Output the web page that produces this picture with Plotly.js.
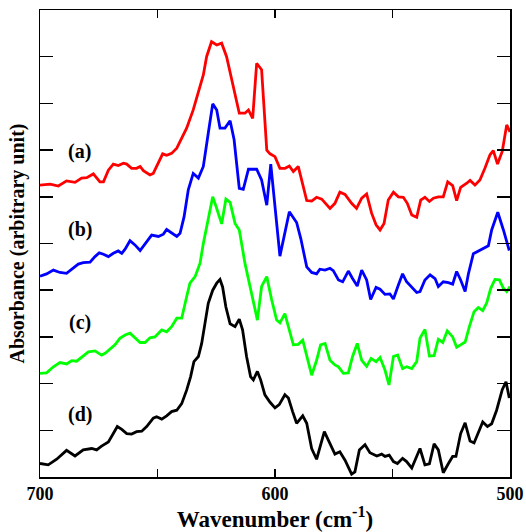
<!DOCTYPE html>
<html>
<head>
<meta charset="utf-8">
<script src="https://cdn.plot.ly/plotly-3.0.1.min.js"></script>
<style>html,body{margin:0;padding:0;background:#fff;}#chart{width:526px;height:532px;}</style>
</head>
<body>
<div id="chart"></div>
<script>
// Spectrum (a) - red
const wnA = [700,695.7,692.2,688.7,685.1,682.3,680.1,677.3,674.5,673.0,670.9,668.8,666.7,664.5,663.1,661.0,658.9,657.4,656.0,653.2,651.8,649.6,647.8,646.1,644.0,641.8,639.7,637.6,634.8,632.6,630.5,629.1,627.0,624.8,622.7,620.6,618.4,616.3,615.2,612.8,611.3,609.5,607.8,605.7,603.5,
  602.1,600.0,597.9,595.7,593.9,592.2,590.1,586.5,584.4,582.3,580.1,576.6,574.5,572.4,570.2,567.4,565.3,563.1,561.0,558.9,557.0,555.3,553.6,551.8,549.6,547.5,545.4,543.7,541.8,539.7,538.0,536.2,534.3,532.6,530.5,528.4,526.5,524.4,522.7,521.0,518.4,517.0,514.9,512.8,510.6,508.5,507.1,505.3,503.3,501.4,500.0];
const absA = [6.25,6.27,6.23,6.34,6.31,6.40,6.41,6.49,6.32,6.32,6.57,6.70,6.67,6.72,6.70,6.61,6.61,6.65,6.56,6.47,6.50,6.72,6.92,6.89,6.93,7.04,7.25,7.47,7.86,8.22,8.61,9.00,9.32,9.25,9.29,9.00,8.50,8.08,7.79,7.79,7.86,7.68,8.86,8.72,7.00,
  6.92,6.86,6.61,6.61,6.66,6.54,6.65,5.92,5.91,5.99,5.95,5.75,5.86,6.10,6.05,5.86,5.75,5.97,6.06,5.65,5.40,5.29,5.43,5.93,6.10,6.00,5.99,5.86,5.61,5.56,5.93,5.99,5.90,5.97,6.00,6.00,6.32,6.24,5.92,6.20,6.29,6.35,6.25,6.36,6.62,6.90,6.99,6.70,6.97,7.54,7.39];

// Spectrum (b) - blue
const wnB = [700,697.2,694.3,691.5,688.7,686.5,683.7,681.6,678.7,676.6,674.8,673.0,670.9,668.8,666.7,665.2,663.8,661.7,659.6,657.4,655.3,652.5,649.6,647.5,646.1,644.0,641.8,640.4,638.7,636.9,634.8,632.6,630.5,628.4,626.5,624.8,623.4,621.3,619.1,617.4,615.2,613.5,611.3,607.8,605.7,603.5,601.8,
  597.9,593.9,590.8,589.0,586.5,584.4,582.3,580.9,578.7,576.6,575.2,573.0,571.2,568.8,567.0,565.0,563.1,561.0,559.3,557.0,555.3,553.2,551.1,549.6,547.5,545.7,544.0,541.8,539.7,538.3,536.2,534.0,531.9,530.5,528.4,526.2,524.4,522.7,521.0,519.1,517.7,515.6,512.8,509.2,507.8,505.2,502.8,500.3];
const absB = [4.30,4.35,4.43,4.38,4.36,4.45,4.56,4.59,4.60,4.72,4.80,4.77,4.72,4.79,4.84,4.79,4.88,5.06,4.97,4.85,4.99,5.18,5.15,5.20,5.30,5.22,5.15,5.22,5.57,6.15,6.50,6.40,6.65,7.36,7.99,7.86,7.47,7.47,7.63,7.22,6.18,6.16,6.59,6.59,6.36,5.82,6.70,
  4.73,5.68,5.45,5.10,4.50,4.38,4.35,4.45,4.43,4.47,4.42,4.22,4.18,4.41,4.25,4.09,4.43,4.22,3.80,4.06,4.02,3.91,3.92,3.81,4.11,4.35,4.18,4.06,3.95,3.97,4.22,4.33,4.25,4.08,4.18,4.16,4.13,4.40,4.22,3.97,4.35,4.78,4.85,4.95,5.29,5.67,5.29,4.85];

// Spectrum (c) - green
const wnC = [700,697.2,694.3,691.5,688.7,686.5,684.4,682.3,679.4,676.6,673.8,672.3,670.2,668.1,666.0,663.8,661.7,659.6,657.4,655.3,653.2,651.1,648.2,646.1,644.0,641.8,639.7,637.6,636.2,634.0,631.9,630.5,628.4,626.5,624.8,622.7,620.9,619.1,617.0,615.2,612.8,611.3,609.2,607.5,605.7,603.5,601.4,599.3,
  597.9,595.8,592.2,590.1,588.2,584.4,582.3,580.6,578.7,576.6,574.5,573.0,570.9,568.8,567.0,565.0,563.1,561.0,559.1,557.0,555.3,553.2,551.5,549.6,547.8,545.7,544.0,541.8,539.7,538.3,536.2,534.3,532.3,530.5,528.6,526.7,524.4,522.7,521.0,519.1,517.3,515.3,513.5,511.6,509.9,508.2,506.4,504.5,502.8,501.4,500.0];
const absC = [2.22,2.23,2.36,2.45,2.42,2.49,2.48,2.56,2.68,2.70,2.61,2.65,2.74,2.83,2.97,3.04,3.08,2.99,2.88,2.88,2.98,3.00,3.15,3.11,3.22,3.40,3.40,3.86,4.15,4.29,4.58,5.00,5.57,6.00,5.75,5.42,5.95,5.88,5.43,5.29,4.58,4.22,3.79,3.36,4.08,4.29,3.79,3.36,
  3.30,3.50,2.83,2.84,2.93,2.18,2.50,2.83,2.86,2.50,2.40,2.36,2.22,2.23,2.58,2.86,2.50,2.37,2.54,2.47,2.56,2.29,1.97,2.58,2.61,2.32,2.36,2.32,2.47,2.97,3.16,2.59,2.60,2.95,2.88,3.13,3.00,2.78,2.83,2.89,3.22,3.54,3.63,3.56,3.73,4.04,4.23,4.22,4.04,3.97,4.08];

// Spectrum (d) - black
const wnD = [700,696.5,692.9,688.7,685.1,681.6,678.0,675.9,673.8,670.9,668.8,667.1,665.2,663.1,661.0,658.9,656.7,654.6,651.8,650.4,648.2,646.1,644.0,641.8,639.7,637.6,635.9,634.5,632.6,631.2,629.8,628.4,626.5,624.8,623.4,622.3,620.9,619.1,617.0,615.2,613.8,612.1,610.4,609.2,607.5,606.1,604.3,602.1,600.0,598.2,
  595.8,594.3,592.5,590.8,588.2,586.5,584.4,582.3,579.0,576.6,574.5,572.4,570.2,567.4,566.0,564.1,561.7,559.6,556.7,554.6,553.2,551.4,549.6,547.9,545.7,544.0,541.8,538.3,536.2,534.3,532.3,530.5,528.4,526.2,524.4,523.0,521.0,519.1,517.0,515.3,513.5,511.6,509.6,507.8,505.7,503.3,501.7,500.3];
const absD = [0.29,0.26,0.38,0.57,0.45,0.58,0.61,0.58,0.66,0.75,0.93,1.08,1.02,0.93,0.92,0.97,0.98,1.08,1.26,1.29,1.24,1.31,1.40,1.43,1.57,1.86,2.15,2.47,2.58,2.86,3.29,3.72,4.00,4.15,4.23,4.07,3.64,3.28,3.22,3.38,3.15,2.58,2.15,2.08,2.26,2.08,1.76,1.60,1.48,1.55,
  1.76,1.69,1.40,1.15,1.31,1.15,0.61,0.38,0.97,0.72,0.49,0.54,0.36,0.06,0.11,0.58,0.69,0.52,0.45,0.49,0.44,0.47,0.33,0.29,0.40,0.33,0.19,0.61,0.26,0.28,0.71,0.58,0.09,0.29,0.44,0.44,0.93,1.16,0.77,0.73,0.97,1.18,1.08,1.14,1.43,1.87,2.04,1.69];

const seriesLabels = ['(a)','(b)','(c)','(d)'];
const labelX = [683,683,683,683];
const labelY = [6.96,5.31,3.30,1.34];

const FONT = 'Liberation Serif, Times New Roman, serif';

const traces = [
  {x: wnA, y: absA, color: '#ff0000', name: '(a)'},
  {x: wnB, y: absB, color: '#0000ff', name: '(b)'},
  {x: wnC, y: absC, color: '#00ff00', name: '(c)'},
  {x: wnD, y: absD, color: '#000000', name: '(d)'}
].map(s => ({
  x: s.x, y: s.y, type: 'scatter', mode: 'lines', name: s.name,
  line: {color: s.color, width: 2.8}
}));

const annotations = seriesLabels.map((t, i) => ({
  x: labelX[i], y: labelY[i], xref: 'x', yref: 'y', text: t, showarrow: false,
  font: {family: FONT, size: 20, color: '#000', weight: 'bold'}
}));

const layout = {
  width: 526, height: 532,
  margin: {l: 40, r: 16, t: 10, b: 55},
  paper_bgcolor: '#fff', plot_bgcolor: '#fff',
  showlegend: false,
  xaxis: {
    range: [700, 500], autorange: false,
    tick0: 500, dtick: 100,
    ticks: 'inside', ticklen: 8, tickwidth: 1.5, tickcolor: '#000',
    minor: {dtick: 50, tick0: 500, ticks: 'inside', ticklen: 8, tickwidth: 1.5, tickcolor: '#000', showgrid: false},
    showline: true, linecolor: '#000', linewidth: 1.5, mirror: 'ticks',
    showgrid: false, zeroline: false,
    tickfont: {family: FONT, size: 18, color: '#000', weight: 'bold'},
    title: {text: 'Wavenumber (cm<sup>-1</sup>)', standoff: 5,
      font: {family: FONT, size: 23, color: '#000', weight: 'bold'}}
  },
  yaxis: {
    range: [0, 10], autorange: false, dtick: 1, tick0: 0,
    ticks: 'inside', ticklen: 13, tickwidth: 1.5, tickcolor: '#000',
    showticklabels: false,
    showline: true, linecolor: '#000', linewidth: 1.5, mirror: 'ticks',
    showgrid: false, zeroline: false,
    title: {text: 'Absorbance (arbitrary unit)', standoff: 8,
      font: {family: FONT, size: 20, color: '#000', weight: 'bold'}}
  },
  annotations: annotations
};

Plotly.newPlot('chart', traces, layout, {displayModeBar: false, staticPlot: true});
</script>
</body>
</html>
